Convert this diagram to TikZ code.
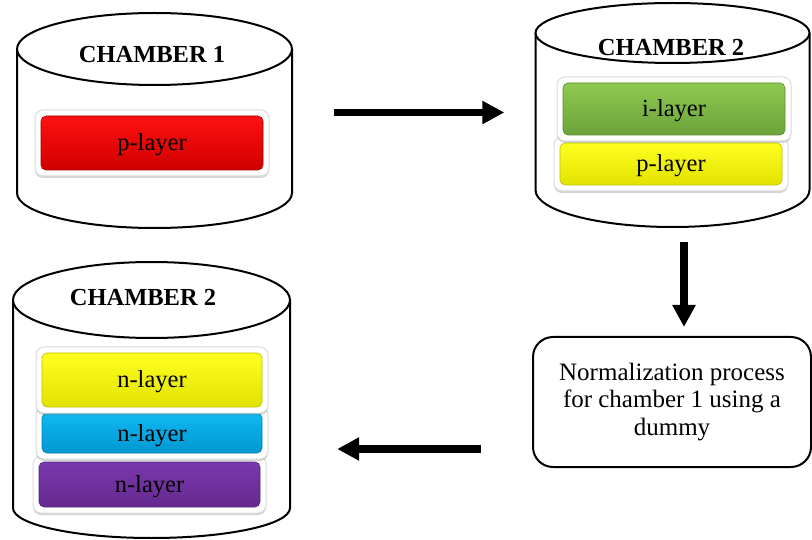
\documentclass[tikz,border=0pt]{standalone}
\usepackage{fontspec}
\setmainfont{Liberation Serif}
\usetikzlibrary{arrows.meta,shadows}
\definecolor{redT}{HTML}{FF1010}
\definecolor{redB}{HTML}{D00000}
\definecolor{grnT}{HTML}{8FC950}
\definecolor{grnB}{HTML}{6BA33A}
\definecolor{yelT}{HTML}{FFFF20}
\definecolor{yelB}{HTML}{E2E200}
\definecolor{bluT}{HTML}{10B8F2}
\definecolor{bluB}{HTML}{0098D2}
\definecolor{purT}{HTML}{7A38AC}
\definecolor{purB}{HTML}{652A90}
\tikzset{
  cylline/.style={line width=2pt, draw=black, fill=white},
  chamberlabel/.style={inner sep=0pt, font=\fontsize{24.5}{28}\selectfont\bfseries},
  rimbox/.style={fill=white, draw=black!14, line width=1pt, rounded corners=8pt, inner sep=0pt,
    drop shadow={shadow xshift=0pt, shadow yshift=-2pt, opacity=0.3, fill=black!55}},
  layerbox/.style={rounded corners=5pt, inner sep=0pt, line width=0.6pt,
    text height=21pt, text depth=5pt,
    font=\fontsize{24.5}{28}\selectfont},
  bigarrow/.style={line width=7.5pt, -{Triangle[length=22pt,width=22pt]}},
  normbox/.style={draw, line width=2pt, rounded corners=20pt, align=center,
    inner sep=0pt, font=\fontsize{25}{27.5}\selectfont}
}
\begin{document}
\begin{tikzpicture}[x=1pt,y=1pt]
\useasboundingbox (0,0) rectangle (812,-540);
% invisible extents of the cylinders
\node[inner sep=0pt, minimum width=275, minimum height=215] (c1) at (154.5,-120.5) {};
\node[inner sep=0pt, minimum width=274, minimum height=224] (c2) at (672.5,-115) {};
\node[inner sep=0pt, minimum width=277, minimum height=276] (c3) at (151.5,-400) {};
% cylinder 1
\draw[cylline] (17,-49) -- (17,-193) arc[start angle=180, end angle=360, x radius=137.5, y radius=35] -- (292,-49);
\draw[cylline] (154.5,-49) ellipse[x radius=137.5, y radius=36];
\node[chamberlabel] (t1) at (152,-55) {CHAMBER 1};
% cylinder 2
\draw[cylline] (535.5,-33) -- (535.5,-190) arc[start angle=180, end angle=360, x radius=137, y radius=37] -- (809.5,-33);
\draw[cylline] (672.5,-33) ellipse[x radius=137, y radius=30];
\node[chamberlabel] (t2) at (671,-48) {CHAMBER 2};
% cylinder 3
\draw[cylline] (13,-300) -- (13,-508) arc[start angle=180, end angle=360, x radius=138.5, y radius=30] -- (290,-300);
\draw[cylline] (151.5,-300) ellipse[x radius=138.5, y radius=38];
\node[chamberlabel] (t3) at (143,-298) {CHAMBER 2};
% chamber 1 layer
\node[rimbox, minimum width=234, minimum height=66] (r1p) at (152,-143) {};
\node[layerbox, top color=redT, bottom color=redB, draw=redB!80!black, minimum width=222, minimum height=54] (l1p) at (152,-143) {p-layer};
% chamber 2 (top right) layers
\node[rimbox, minimum width=234, minimum height=54] (r2p) at (671,-164) {};
\node[layerbox, top color=yelT, bottom color=yelB, draw=yelB!85!black, minimum width=222, minimum height=42] (l2p) at (671,-164) {p-layer};
\node[rimbox, minimum width=234, minimum height=64] (r2i) at (674,-109) {};
\node[layerbox, top color=grnT, bottom color=grnB, draw=grnB!85!black, minimum width=222, minimum height=52] (l2i) at (674,-109) {i-layer};
% chamber 2 (bottom left) layers
\node[rimbox, minimum width=233, minimum height=57] (r3c) at (149.5,-484.5) {};
\node[layerbox, top color=purT, bottom color=purB, draw=purB!85!black, minimum width=221, minimum height=45] (l3c) at (149.5,-484.5) {n-layer};
\node[rimbox, minimum width=232, minimum height=52] (r3b) at (152,-433) {};
\node[layerbox, top color=bluT, bottom color=bluB, draw=bluB!85!black, minimum width=220, minimum height=40] (l3b) at (152,-433) {n-layer};
\node[rimbox, minimum width=232, minimum height=66] (r3a) at (152,-380) {};
\node[layerbox, top color=yelT, bottom color=yelB, draw=yelB!85!black, minimum width=220, minimum height=54] (l3a) at (152,-380) {n-layer};
% normalization box
\node[normbox, minimum width=278, minimum height=130] (norm) at (672,-402)
  {Normalization process\\for chamber 1 using a\\dummy};
% arrows
\draw[bigarrow, shorten <=42pt, shorten >=31pt] ([yshift=8pt]c1.east) -- ([yshift=2.5pt]c2.west);
\draw[bigarrow, shorten <=15pt, shorten >=9pt] ([xshift=11.5pt]c2.south) -- ([xshift=12pt]norm.north);
\draw[bigarrow, shorten <=51pt, shorten >=47pt] ([yshift=-47pt]norm.west) -- ([yshift=-49pt]c3.east);
\end{tikzpicture}
\end{document}
